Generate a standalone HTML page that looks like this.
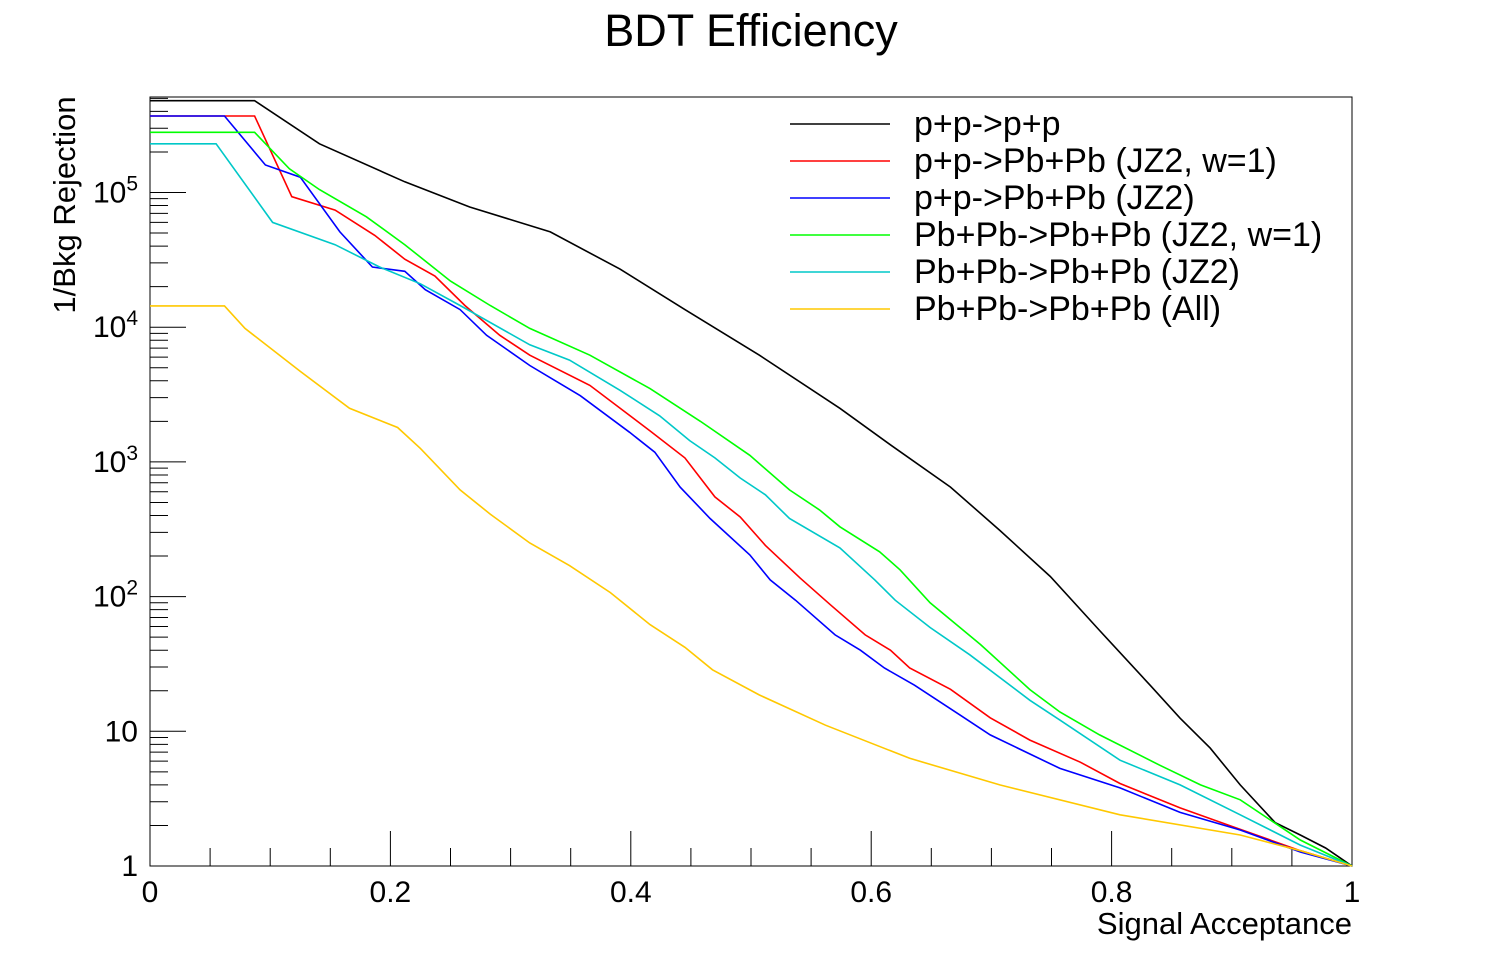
<!DOCTYPE html>
<html><head><meta charset="utf-8"><style>
html,body{margin:0;padding:0;background:#fff;}
svg{display:block;font-family:"Liberation Sans",sans-serif;}
</style></head><body>
<svg id="chart" width="1503" height="968">
<text x="751" y="46" font-size="45" text-anchor="middle">BDT Efficiency</text>
<text transform="translate(75,205) rotate(-90)" font-size="31" text-anchor="middle">1/Bkg Rejection</text>
<text x="1352" y="934" font-size="31" text-anchor="end">Signal Acceptance</text>
<g id="axes"></g>
<g id="series"></g>
<g id="legend"></g>
</svg>
<script>
const xTickLabels=["0","0.2","0.4","0.6","0.8","1"];
const xTickValues=[0,0.2,0.4,0.6,0.8,1];
const yDecades=[0,1,2,3,4,5];
const yTickBase=["1","10","10","10","10","10"];
const yTickSup=["","","2","3","4","5"];
const seriesNames=["p+p->p+p","p+p->Pb+Pb (JZ2, w=1)","p+p->Pb+Pb (JZ2)","Pb+Pb->Pb+Pb (JZ2, w=1)","Pb+Pb->Pb+Pb (JZ2)","Pb+Pb->Pb+Pb (All)"];
const seriesColors=["#000000","#ff0000","#0000ff","#00ff00","#00c8c8","#ffc800"];
const blackX=[0,0.087,0.141,0.212,0.266,0.333,0.391,0.445,0.507,0.574,0.616,0.666,0.707,0.749,0.790,0.832,0.857,0.882,0.907,0.936,0.957,0.978,0.990,1];
const blackY=[4.8e5,4.8e5,2.3e5,1.2e5,7.8e4,5.1e4,2.7e4,1.35e4,6.2e3,2.5e3,1.34e3,650,310,141,56,22,12.5,7.5,4.0,2.1,1.7,1.36,1.15,1];
const redX=[0,0.087,0.118,0.154,0.187,0.212,0.237,0.262,0.291,0.316,0.366,0.416,0.445,0.47,0.491,0.512,0.541,0.566,0.595,0.616,0.632,0.666,0.699,0.732,0.774,0.807,0.857,0.898,0.957,1];
const redY=[3.7e5,3.7e5,9.3e4,7.4e4,4.8e4,3.2e4,2.4e4,1.45e4,8.7e3,6.2e3,3.7e3,1.7e3,1.07e3,550,390,240,137,87,52,40,29.5,20.5,12.6,8.6,5.9,4.1,2.7,2.0,1.3,1];
const blueX=[0,0.062,0.096,0.125,0.158,0.185,0.212,0.229,0.258,0.28,0.316,0.358,0.399,0.42,0.441,0.466,0.499,0.516,0.537,0.57,0.591,0.611,0.636,0.674,0.699,0.757,0.807,0.857,0.907,0.957,1];
const blueY=[3.7e5,3.7e5,1.6e5,1.3e5,5.1e4,2.8e4,2.6e4,1.9e4,1.35e4,8.7e3,5.2e3,3.1e3,1.66e3,1.18e3,650,380,204,133,94,52,40,29.5,22,13.2,9.4,5.3,3.8,2.5,1.85,1.27,1];
const greenX=[0,0.087,0.116,0.141,0.18,0.212,0.25,0.283,0.316,0.366,0.416,0.458,0.499,0.532,0.557,0.574,0.607,0.624,0.649,0.691,0.732,0.757,0.79,0.84,0.874,0.907,0.957,1];
const greenY=[2.8e5,2.8e5,1.5e5,1.05e5,6.6e4,4.1e4,2.2e4,1.45e4,9.8e3,6.2e3,3.5e3,2.0e3,1.12e3,620,440,330,215,158,90,44,20.4,13.9,9.4,5.6,4.0,3.1,1.56,1];
const cyanX=[0,0.055,0.102,0.154,0.191,0.225,0.258,0.316,0.349,0.391,0.424,0.449,0.47,0.491,0.512,0.532,0.574,0.603,0.62,0.649,0.682,0.732,0.757,0.807,0.857,0.907,0.957,1];
const cyanY=[2.3e5,2.3e5,6.0e4,4.1e4,2.8e4,2.1e4,1.45e4,7.4e3,5.7e3,3.4e3,2.2e3,1.44e3,1.07e3,760,570,380,230,133,94,59,37,17,12.1,6.1,4.0,2.4,1.43,1];
const orangeX=[0,0.062,0.079,0.125,0.166,0.206,0.225,0.258,0.283,0.316,0.349,0.383,0.416,0.445,0.468,0.507,0.562,0.632,0.707,0.807,0.907,0.957,1];
const orangeY=[1.44e4,1.44e4,9.8e3,4.7e3,2.5e3,1.8e3,1.26e3,620,410,250,170,107,62,42,28.6,18.6,11.1,6.3,4.0,2.4,1.7,1.3,1];
const seriesX=[blackX,redX,blueX,greenX,cyanX,orangeX];
const seriesY=[blackY,redY,blueY,greenY,cyanY,orangeY];

const NS="http://www.w3.org/2000/svg";
const L=150,R=1352,T=97,B=866,PXDEC=134.7;
function sx(v){return L+(R-L)*v;}
function sy(v){return B-Math.log10(v)*PXDEC;}
function mk(tag,attrs,parent){const e=document.createElementNS(NS,tag);for(const k in attrs)e.setAttribute(k,attrs[k]);parent.appendChild(e);return e;}
const axes=document.getElementById('axes');
const frame=mk('rect',{x:L,y:T,width:R-L,height:B-T,fill:'none',stroke:'#000','stroke-width':1},axes);


for(let i=0;i<=20;i++){const v=i*0.05;const len=(i%4===0)?35:18;
 const t=mk('line',{x1:sx(v),x2:sx(v),y1:B,y2:B-len,stroke:'#000'},axes);
 
 }
xTickValues.forEach((v,i)=>{const t=mk('text',{x:sx(v),y:B+36,'font-size':30,'text-anchor':'middle'},axes);t.textContent=xTickLabels[i];
 
 });
yDecades.forEach((d,i)=>{const y=sy(Math.pow(10,d));
 const t=mk('line',{x1:L,x2:L+36,y1:y,y2:y,stroke:'#000'},axes);
 
 
 const lb=mk('text',{x:L-12,y:y+10,'font-size':30,'text-anchor':'end'},axes);
 
 
 const b=mk('tspan',{},lb);b.textContent=yTickBase[i];
 if(yTickSup[i]){const s=mk('tspan',{'font-size':21,dy:-12},lb);s.textContent=yTickSup[i];}
 for(let m=2;m<=9;m++){const v=m*Math.pow(10,d);if(sy(v)<T)break;
  const mt=mk('line',{x1:L,x2:L+18,y1:sy(v),y2:sy(v),stroke:'#000'},axes);
  
  }
});
const sg=document.getElementById('series');
seriesX.forEach((xs,s)=>{const ys=seriesY[s];
 const pts=xs.map((x,i)=>sx(x).toFixed(1)+','+sy(ys[i]).toFixed(1)).join(' ');
 const p=mk('polyline',{points:pts,fill:'none',stroke:seriesColors[s],'stroke-width':1.6},sg);
 
 });
const lg=document.getElementById('legend');
seriesNames.forEach((n,i)=>{const y=124+i*37;
 const ln=mk('line',{x1:790,x2:890,y1:y,y2:y,stroke:seriesColors[i],'stroke-width':1.6},lg);
 
 
 const t=mk('text',{x:914,y:y+11,'font-size':34},lg);t.textContent=n;
 
 });
</script>
</body></html>
